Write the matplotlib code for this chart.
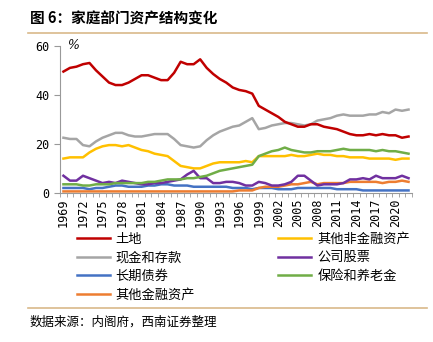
import numpy as np
import matplotlib.pyplot as plt

plt.rcParams['font.family'] = ['Noto Sans CJK SC', 'DejaVu Sans']

years = np.arange(1969, 2023)

# 各类资产占比 (%)
land = [49.5, 51, 51.5, 52.5, 53, 50, 47.5, 45, 44, 44,
        45, 46.5, 48, 48, 47, 46, 46, 49, 53.5, 52.5,
        52.5, 54.5, 51, 48.5, 46.5, 45, 43, 42, 41.5, 40.5,
        35.5, 34, 32.5, 31, 29, 28, 27, 27, 28, 28,
        27, 26.5, 26, 25, 24, 23.5, 23.5, 24, 23.5, 24,
        23.5, 23.5, 22.5, 23]
cash = [22.5, 22, 22, 19.5, 19, 21, 22.5, 23.5, 24.5, 24.5,
        23.5, 23, 23, 23.5, 24, 24, 24, 22, 19.5, 19,
        18.5, 19, 21.5, 23.5, 25, 26, 27, 27.5, 29, 30.5,
        26, 26.5, 27.5, 28, 28.5, 28.5, 28, 27.5, 28, 29.5,
        30, 30.5, 31.5, 32, 31.5, 31.5, 31.5, 32, 32, 33,
        32.5, 34, 33.5, 34]
bonds = [2, 2, 2, 2, 1.5, 2, 2, 2.5, 3, 3,
         2.5, 2.5, 2.5, 3, 3, 3.5, 3.5, 3, 3, 3,
         2.5, 2.5, 2.5, 2.5, 2.5, 2.5, 2, 2, 2, 1.5,
         2, 2, 2, 1.5, 1.5, 1.5, 2, 2, 2, 2,
         2, 2, 1.5, 1.5, 1.5, 1.5, 1, 1, 1, 1,
         1, 1, 1, 1]
other_fin = [0.6] * 27 + [1, 1, 1,
             2, 2.5, 2.5, 2.5, 3, 3.5, 3.5, 4, 4.5, 3.5,
             4, 4, 4, 4, 4.5, 4.5, 4.5, 4.5, 4.5, 4,
             4.5, 4.5, 5, 4.5]
other_nonfin = [14, 14.5, 14.5, 14.5, 16.5, 18, 19, 19.5, 19.5, 19,
                19.5, 18.5, 17.5, 17, 16, 15.5, 15, 13, 11, 10.5,
                10, 10, 11, 12, 12.5, 12.5, 12.5, 12.5, 13, 12.5,
                15, 15, 15, 15, 15, 15.5, 15, 15, 15.5, 16,
                15.5, 15.5, 15, 15, 14.5, 14.5, 14.5, 14, 14, 14,
                14, 13.5, 14, 14]
stocks = [7, 5, 5, 7, 6, 5, 4, 4.5, 4, 5,
          4.5, 4, 3.5, 3.5, 4, 4, 4.5, 5, 5.5, 7.5,
          9, 6, 6, 4, 4, 4.5, 4.5, 4, 3, 3,
          4.5, 4, 3, 3, 3.5, 4.5, 7, 7, 5, 3,
          3.5, 3.5, 3.5, 4, 5.5, 5.5, 6, 5.5, 7, 6,
          6, 6, 7, 6]
pension = [3.5, 3.5, 3.5, 3, 3, 3.5, 3.5, 3.5, 4, 4,
           4, 4, 4, 4.5, 4.5, 5, 5.5, 5.5, 5.5, 6,
           6, 6.5, 7, 8, 9, 9.5, 10, 10.5, 11, 11.5,
           15, 16, 17, 17.5, 18.5, 17.5, 17, 16.5, 16.5, 17,
           17, 17, 17.5, 18, 17.5, 17.5, 17.5, 17.5, 17, 17.5,
           17, 17, 16.5, 16]

series = [("土地", land, "#C00000"),
          ("现金和存款", cash, "#A5A5A5"),
          ("长期债券", bonds, "#4472C4"),
          ("其他金融资产", other_fin, "#ED7D31"),
          ("其他非金融资产", other_nonfin, "#FFC000"),
          ("公司股票", stocks, "#7030A0"),
          ("保险和养老金", pension, "#70AD47")]

fig = plt.figure(figsize=(4.33, 3.42), dpi=100)
ax = fig.add_axes([0.139, 0.436, 0.812, 0.43])

# 先画底部的线，土地最后画在最上层
for name, vals, color in series:
    ax.plot(years, vals, color=color, lw=1.8, label=name,
            zorder=3 if name == "土地" else 2)

ax.set_xlim(1968.5, 2022.5)
ax.set_ylim(0, 60)
ax.set_yticks([0, 20, 40, 60])
ax.set_xticks(np.arange(1969, 2021, 3))
ax.set_xticks(np.arange(1968.5, 2023, 1), minor=True)
ax.tick_params(axis='x', which='major', length=0, labelrotation=90, pad=4)
ax.tick_params(axis='x', which='minor', length=3, color='#999999')
ax.tick_params(axis='y', length=4, color='#999999')
for lab in ax.get_xticklabels() + ax.get_yticklabels():
    lab.set_family('DejaVu Sans Mono')
    lab.set_fontsize(8.5)

for s in ['top', 'right']:
    ax.spines[s].set_visible(False)
for s in ['left', 'bottom']:
    ax.spines[s].set_color('#999999')

ax.text(0.02, 1.0, "%", transform=ax.transAxes, fontsize=9,
        family='DejaVu Serif', style='italic', va='center')

handles, labels = ax.get_legend_handles_labels()
fig.legend(handles, labels, ncol=2, loc='upper left',
           bbox_to_anchor=(0.165, 0.335), frameon=False, fontsize=9.5,
           handlelength=2.5, handletextpad=0.45, columnspacing=6.3,
           labelspacing=0.42, borderaxespad=0)

# 标题与上下分隔线
fig.text(0.069, 0.947, "图 6：家庭部门资产结构变化", fontsize=10.5,
         fontweight='bold', va='center')
fig.add_artist(plt.Line2D([0.065, 0.985], [0.903, 0.903],
                          color='#D9B98A', lw=1.2))
fig.add_artist(plt.Line2D([0.065, 0.985], [0.1, 0.1],
                          color='#D9B98A', lw=1.2))
fig.text(0.069, 0.058, "数据来源：内阁府，西南证券整理", fontsize=9,
         style='italic', va='center')

fig.savefig("out.png", dpi=100)
